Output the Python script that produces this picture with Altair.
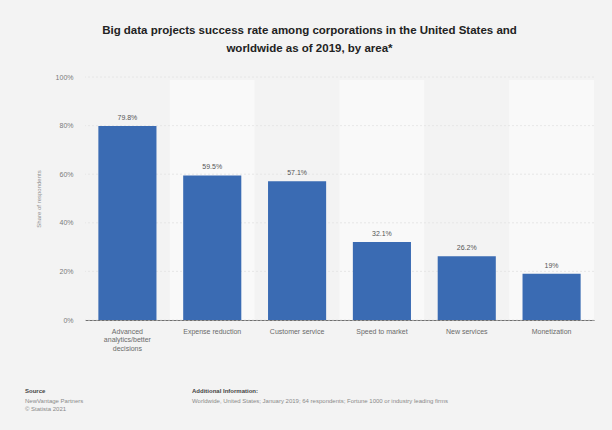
import altair as alt
import pandas as pd

categories = [
    "Advanced analytics/better decisions",
    "Expense reduction",
    "Customer service",
    "Speed to market",
    "New services",
    "Monetization",
]
values = [79.8, 59.5, 57.1, 32.1, 26.2, 19.0]
value_labels = ["79.8%", "59.5%", "57.1%", "32.1%", "26.2%", "19%"]
y_ticks = [0, 20, 40, 60, 80, 100]

title_lines = [
    "Big data projects success rate among corporations in the United States and",
    "worldwide as of 2019, by area*",
]
source_lines = ["NewVantage Partners", "© Statista 2021"]
info_line = ("Worldwide, United States; January 2019; 64 respondents; "
             "Fortune 1000 or industry leading firms")

df = pd.DataFrame({
    "area": categories,
    "share": values,
    "label": value_labels,
    "shade": ["a" if i % 2 == 0 else "b" for i in range(len(categories))],
})
grid_df = pd.DataFrame({"share": y_ticks})

W, H = 509, 243
FONT = "Liberation Sans"
BG = "#f3f3f3"
BAR = "#3a6bb3"
PAD_IN = 0.315

y_scale = alt.Scale(domain=[0, 100], nice=False)
x_scale = alt.Scale(paddingInner=PAD_IN, paddingOuter=PAD_IN / 2)

x_main = alt.X(
    "area:N", sort=categories, title=None, scale=x_scale,
    axis=alt.Axis(
        labelAngle=0, labelFont=FONT, labelFontSize=7, labelColor="#6a6a6a",
        labelPadding=7, labelLineHeight=8.5, ticks=False,
        domainColor="#6f6f6f", domainWidth=1, labelLimit=120,
        labelExpr="datum.value == 'Advanced analytics/better decisions' ? "
                  "['Advanced', 'analytics/better', 'decisions'] : datum.value",
    ),
)
y_main = alt.Y(
    "share:Q", scale=y_scale, title="Share of respondents",
    axis=alt.Axis(values=y_ticks, labelExpr="datum.value + '%'",
                  grid=False, domain=False, ticks=False,
                  labelFont=FONT, labelFontSize=7, labelColor="#7a7a7a",
                  labelPadding=12, titleFont=FONT, titleFontSize=6,
                  titleColor="#8f8f8f", titleFontWeight="normal",
                  titlePadding=14),
)

bands = alt.Chart(df).mark_bar(width=alt.RelativeBandSize(1 / (1 - PAD_IN))).encode(
    x=x_main,
    y=alt.value(3),
    y2=alt.value(H),
    color=alt.Color("shade:N", scale=alt.Scale(domain=["a", "b"],
                                               range=[BG, "#f9f9f9"]), legend=None),
)

grid = alt.Chart(grid_df).mark_rule(color="#e2e2e2", strokeWidth=0.8,
                                    strokeDash=[2, 2]).encode(y=y_main)

bars = alt.Chart(df).mark_bar(color=BAR).encode(x=x_main, y=y_main)

texts = alt.Chart(df).mark_text(dy=-8, font=FONT, fontSize=7,
                                color="#555555").encode(
    x=x_main,
    y=y_main,
    text="label:N",
)

def note(text, x, y, bold=False, size=6, color="#8a8a8a"):
    return alt.Chart(alt.Data(values=[{}])).mark_text(
        align="left", baseline="middle", font=FONT, fontSize=size,
        fontWeight="bold" if bold else "normal", color=color,
    ).encode(x=alt.value(x), y=alt.value(y), text=alt.value(text))

footer = [
    note("Source", 25 - 85, 391 - 77, bold=True, color="#444444"),
    note(source_lines[0], 25 - 85, 401 - 77),
    note(source_lines[1], 25 - 85, 409 - 77),
    note("Additional Information:", 192 - 85, 391 - 77, bold=True, color="#444444"),
    note(info_line, 192 - 85, 401 - 77),
]

chart = alt.layer(bands, grid, bars, texts, *footer).properties(
    width=W, height=H,
    background=BG,
    padding={"left": 85, "top": 77, "right": 18, "bottom": 110},
    autosize=alt.AutoSizeParams(type="none"),
    title=alt.TitleParams(
        text=title_lines, anchor="middle", font=FONT, fontSize=11.5,
        fontWeight="bold", color="#222222", offset=19, dx=-30, lineHeight=18,
    ),
).configure_view(stroke=None)

chart.save("out.html", embed_options={"renderer": "svg", "actions": False})
